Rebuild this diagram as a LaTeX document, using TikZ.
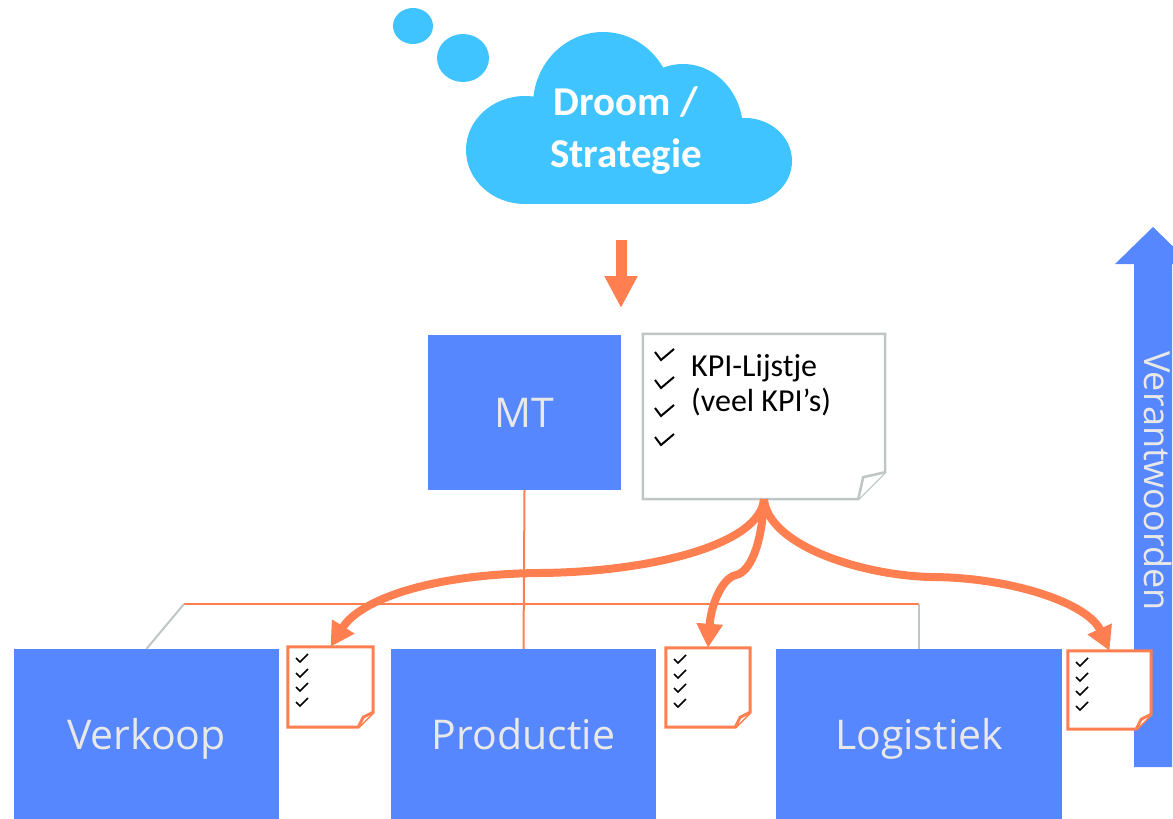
\documentclass[tikz,border=0pt]{standalone}
\usepackage{fontspec}
\setmainfont{Carlito}[Ligatures=NoCommon]
\newfontfamily\boxfont{Open Sans}
\usetikzlibrary{arrows.meta}
\definecolor{boxblue}{HTML}{5687FF}
\definecolor{cloudc}{HTML}{40C4FF}
\definecolor{orangec}{HTML}{FF7F50}
\definecolor{graybd}{HTML}{BFC6C6}
\definecolor{boxtext}{HTML}{E8E8E8}
\newcommand\drawnote[4]{%
  \filldraw[#4] (#1.north west) -- (#1.north east) -- ([yshift=#2]#1.south east) -- ([xshift=-#2]#1.south east) -- (#1.south west) -- cycle;
  \draw[#4] ([yshift=#2]#1.south east) -- ([xshift=-#3,yshift=#3]#1.south east) -- ([xshift=-#2]#1.south east);
}
\begin{document}
\begin{tikzpicture}[x=1pt,y=-1pt,
  box/.style={fill=boxblue, text=boxtext, inner sep=0pt, font=\boxfont\fontsize{41}{50}\selectfont, text height=29.5pt, text depth=0pt},
  noteph/.style={inner sep=0pt, draw=none},
  bignote/.style={draw=graybd, fill=white, line width=2.5pt, line join=miter},
  smallnote/.style={draw=orangec, fill=white, line width=3pt, line join=miter},
  thickarr/.style={draw=orangec, line width=8pt, -{Triangle[length=24pt,width=25pt]}},
  orgline/.style={draw=orangec, line width=2pt},
  grayline/.style={draw=graybd, line width=2pt},
  chkbig/.pic={\draw[line width=2pt] (-6,-8) -- (0,0) -- (13,-11);},
  chksmall/.pic={\draw[line width=1.5pt] (-4,-4) -- (0,0) -- (8,-8);},
  cloudtxt/.style={text=white, font=\fontsize{41}{52}\selectfont\bfseries, align=center, inner sep=0pt}
]
\useasboundingbox (0,0) rectangle (1173,819);
\clip (0,0) rectangle (1173,819);

% right blue arrow
\fill[boxblue] (1134,767) -- (1134,264) -- (1115,264) -- (1153,227) -- (1191,264) -- (1172,264) -- (1172,767) -- cycle;
\node[rotate=-90, text=boxtext, inner sep=0pt, font=\boxfont\fontsize{36}{42}\selectfont, text height=25.5pt, text depth=0pt] (verant) at (1157,481) {Verantwoorden};

% cloud
\fill[cloudc] (413,26) ellipse [x radius=20, y radius=18];
\fill[cloudc] (463,58) ellipse [x radius=26, y radius=24];
\fill[cloudc] (525,150) ellipse [x radius=59, y radius=54];
\fill[cloudc] (603,105) ellipse [x radius=70, y radius=73];
\fill[cloudc] (683,130) ellipse [x radius=60, y radius=66];
\fill[cloudc] (745,161) ellipse [x radius=47, y radius=43];
\fill[cloudc] (525,120) rectangle (745,204);
\node[cloudtxt] (cloud) at (626,131) {Droom /\\Strategie};

% arrow from cloud to MT
\coordinate (dS) at (621,240);
\coordinate (dE) at (621,308);
\draw[draw=orangec, line width=11pt, -{Triangle[length=32pt,width=31pt]}] (dS) -- (dE);

% boxes
\node[box, minimum width=193pt, minimum height=155pt] (mt) at (524.5,412.5) {MT};
\node[box, minimum width=265pt, minimum height=172pt] (verk) at (146.5,735) {Verkoop};
\node[box, minimum width=265pt, minimum height=172pt] (prod) at (523.5,735) {Productie};
\node[box, minimum width=286pt, minimum height=172pt] (logi) at (919,735) {Logistiek};

% org lines
\coordinate (hl) at (184,604);
\coordinate (hr) at (919,604);
\draw[orgline] (mt.south) -- (prod.north);
\draw[orgline] (hl) -- (hr);
\draw[grayline] (hl) -- (verk.north);
\draw[grayline] (hr) -- (logi.north);

% KPI note
\node[noteph, minimum width=242pt, minimum height=165pt] (kpi) at (764,416.5) {};
\drawnote{kpi}{27pt}{22pt}{bignote}
\foreach \yy in {360,388,416,445} \pic at (661,\yy) {chkbig};
\node[anchor=north west, inner sep=0pt, align=left, font=\fontsize{32}{35}\selectfont] (kpitxt) at (691,354) {KPI-Lijstje\\(veel KPI’s)};

% small notes
\node[noteph, minimum width=85pt, minimum height=80pt] (nv) at (330.5,687) {};
\node[noteph, minimum width=84pt, minimum height=79pt] (np) at (708,687.5) {};
\node[noteph, minimum width=83pt, minimum height=78pt] (nl) at (1109.5,690) {};
\foreach \n in {nv,np,nl}{
  \drawnote{\n}{15pt}{10pt}{smallnote}
}
\foreach \yy in {15,30,44,59}{
  \pic at (300,647+\yy) {chksmall};
  \pic at (678,648+\yy) {chksmall};
  \pic at (1080,651+\yy) {chksmall};
}

% thick curved arrows
\draw[thickarr] (kpi.south) .. controls (760,545) and (650,572) .. (540,573) .. controls (430,574) and (360,600) .. (nv.north);
\draw[thickarr] (kpi.south) .. controls (762,545) and (750,572) .. (736,575) .. controls (722,578) and (711,605) .. (np.north);
\draw[thickarr] (kpi.south) .. controls (768,545) and (860,575) .. (930,577) .. controls (1010,577) and (1088,603) .. (nl.north);
\end{tikzpicture}
\end{document}
